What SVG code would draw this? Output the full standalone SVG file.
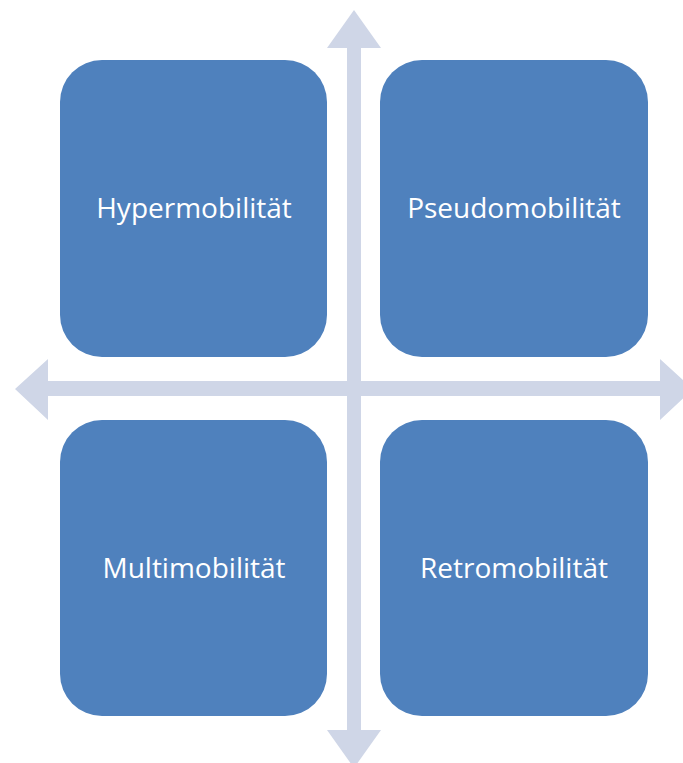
<svg xmlns="http://www.w3.org/2000/svg" width="683" height="763" viewBox="0 0 683 763">
<style>
.box{fill:#4F81BD;}
.arr{fill:#CFD6E7;}
.lbl{font-family:"Open Sans","Liberation Sans",sans-serif;font-size:28px;fill:#FFFFFF;text-anchor:middle;}
</style>
<rect width="683" height="763" fill="#FFFFFF"/>
<g id="connectors">
<path class="arr" d="M347,48 L327,48 L354,10 L381,48 L361,48 L361,730 L381,730 L354,768 L327,730 L347,730 Z"/>
<path class="arr" d="M48,381 L48,359 L15,389 L48,420 L48,396 L660,396 L660,420 L693,389 L660,359 L660,381 Z"/>
</g>
<g id="hypermobilitaet">
<rect class="box" x="60" y="60" width="267" height="297" rx="42" ry="42"/>
<text class="lbl" x="194" y="218">Hypermobilität</text>
</g>
<g id="pseudomobilitaet">
<rect class="box" x="380" y="60" width="268" height="297" rx="42" ry="42"/>
<text class="lbl" x="514" y="218">Pseudomobilität</text>
</g>
<g id="multimobilitaet">
<rect class="box" x="60" y="420" width="267" height="296" rx="42" ry="42"/>
<text class="lbl" x="194" y="578">Multimobilität</text>
</g>
<g id="retromobilitaet">
<rect class="box" x="380" y="420" width="268" height="296" rx="42" ry="42"/>
<text class="lbl" x="514" y="578">Retromobilität</text>
</g>
</svg>
